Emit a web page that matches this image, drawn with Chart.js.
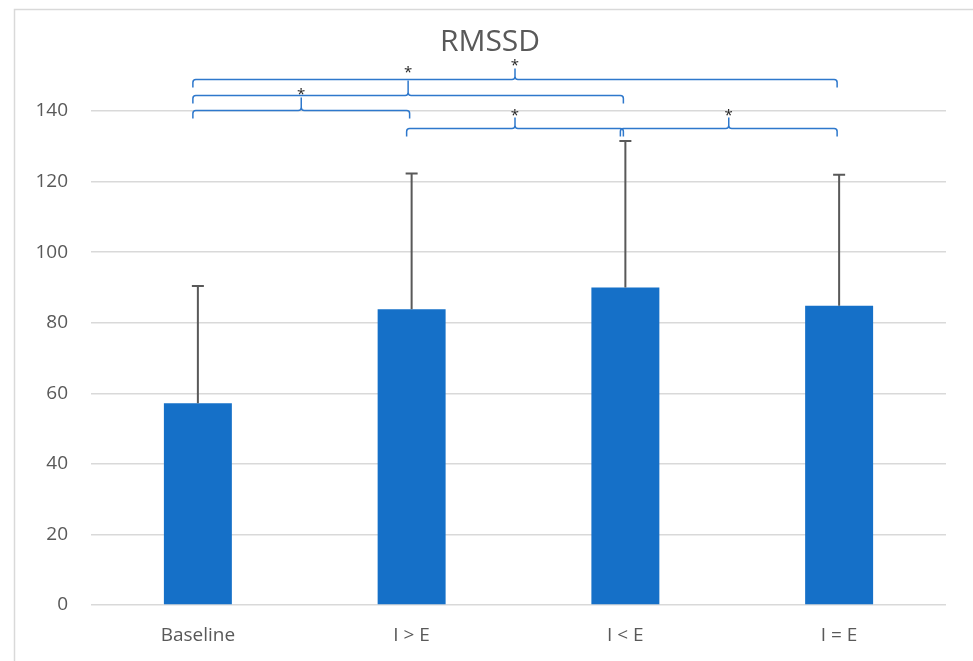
<!DOCTYPE html>
<html lang="en">
<head>
    <meta charset="UTF-8">
    <title>RMSSD</title>
    <script src="https://cdn.jsdelivr.net/npm/chart.js@4.4.1/dist/chart.umd.min.js"></script>
    <style>
        body {
            margin: 0;
            padding: 0;
            background-color: white;
            overflow: hidden;
        }
        .chart-container {
            position: relative;
            width: 973px;
            height: 661px;
        }
    </style>
</head>
<body>
    <div class="chart-container">
        <canvas id="rmssdChart"></canvas>
    </div>

    <script>
        const categories = ['Baseline', 'I > E', 'I < E', 'I = E'];
        const meanValues = [57.2, 83.8, 90.0, 84.8];
        const sdValues = [33.2, 38.5, 41.5, 37.1];

        // significance brackets: from category, to category, height (in y units), label
        const braceFrom = [0, 0, 0, 1, 2];
        const braceTo = [1, 2, 3, 2, 3];
        const braceLevel = [140.3, 144.5, 149.1, 135.2, 135.2];
        const braceLabel = ['*', '*', '*', '*', '*'];
        // pip length and asterisk gap (px) for each bracket
        const bracePip = [13, 15, 11, 11, 11];
        const braceGap = [7, 12, 7, 6, 6];

        const fontFamily = "'Open Sans', 'Noto Sans', sans-serif";

        // frame around the chart
        const framePlugin = {
            id: 'frame',
            beforeDraw(chart) {
                const ctx = chart.ctx;
                ctx.save();
                ctx.strokeStyle = '#d9d9d9';
                ctx.lineWidth = 1.5;
                ctx.strokeRect(14.5, 9.5, chart.width + 20, chart.height + 20);
                ctx.restore();
            }
        };

        // upward-only error bars
        const errorBarPlugin = {
            id: 'errorBars',
            afterDatasetsDraw(chart) {
                const ctx = chart.ctx;
                const meta = chart.getDatasetMeta(0);
                const yScale = chart.scales.y;
                ctx.save();
                ctx.strokeStyle = '#595959';
                ctx.lineWidth = 2;
                meta.data.forEach((bar, i) => {
                    const x = bar.x;
                    const yTop = yScale.getPixelForValue(meanValues[i] + sdValues[i]);
                    const yBar = yScale.getPixelForValue(meanValues[i]);
                    ctx.beginPath();
                    ctx.moveTo(x, yBar);
                    ctx.lineTo(x, yTop);
                    ctx.moveTo(x - 6, yTop);
                    ctx.lineTo(x + 6, yTop);
                    ctx.stroke();
                });
                ctx.restore();
            }
        };

        // brackets with asterisks
        const bracePlugin = {
            id: 'braces',
            afterDraw(chart) {
                const ctx = chart.ctx;
                const xScale = chart.scales.x;
                const yScale = chart.scales.y;
                const r = 3;
                const drop = 8;
                ctx.save();
                ctx.strokeStyle = '#2e78cc';
                ctx.lineWidth = 1.5;
                ctx.fillStyle = '#262626';
                ctx.font = '15px ' + fontFamily;
                ctx.textAlign = 'center';
                ctx.textBaseline = 'alphabetic';
                braceFrom.forEach((from, i) => {
                    const x1 = xScale.getPixelForValue(from) - 5;
                    const x2 = xScale.getPixelForValue(braceTo[i]) - 2;
                    const y = Math.round(yScale.getPixelForValue(braceLevel[i])) + 0.5;
                    const xm = (x1 + x2) / 2;
                    const pip = bracePip[i];
                    ctx.beginPath();
                    ctx.moveTo(x1, y + drop);
                    ctx.lineTo(x1, y + r);
                    ctx.quadraticCurveTo(x1, y, x1 + r, y);
                    ctx.lineTo(xm - r, y);
                    ctx.quadraticCurveTo(xm, y, xm, y - r);
                    ctx.lineTo(xm, y - pip);
                    ctx.moveTo(xm, y - r);
                    ctx.quadraticCurveTo(xm, y, xm + r, y);
                    ctx.lineTo(x2 - r, y);
                    ctx.quadraticCurveTo(x2, y, x2, y + r);
                    ctx.lineTo(x2, y + drop);
                    ctx.stroke();
                    // asterisk glyph sits high in the em box, baseline shifted down
                    ctx.fillText(braceLabel[i], xm, y - pip - braceGap[i] + 8);
                });
                ctx.restore();
            }
        };

        const ctx = document.getElementById('rmssdChart').getContext('2d');
        const rmssdChart = new Chart(ctx, {
            type: 'bar',
            data: {
                labels: categories,
                datasets: [{
                    label: 'RMSSD',
                    data: meanValues,
                    backgroundColor: '#1570c8',
                    barPercentage: 0.318,
                    categoryPercentage: 1.0
                }]
            },
            options: {
                responsive: true,
                maintainAspectRatio: false,
                animation: false,
                layout: {
                    padding: { left: 34, right: 27, top: 0, bottom: 0 }
                },
                plugins: {
                    legend: { display: false },
                    tooltip: { enabled: false },
                    title: {
                        display: true,
                        text: 'RMSSD',
                        color: '#595959',
                        font: { family: fontFamily, size: 30, weight: 'normal', lineHeight: 1.2 },
                        padding: { top: 24, bottom: 51 }
                    }
                },
                scales: {
                    x: {
                        grid: { display: false, drawTicks: false },
                        border: { display: false },
                        ticks: {
                            color: '#595959',
                            padding: 19,
                            font: { family: fontFamily, size: 19 }
                        },
                        afterFit(scale) { scale.height = 56; }
                    },
                    y: {
                        min: 0,
                        max: 140,
                        grid: { color: '#d9d9d9', lineWidth: 1.5, drawTicks: false },
                        border: { display: false },
                        ticks: {
                            stepSize: 20,
                            color: '#595959',
                            padding: 23,
                            font: { family: fontFamily, size: 19 }
                        },
                        afterFit(scale) { scale.width = 57; }
                    }
                }
            },
            plugins: [framePlugin, errorBarPlugin, bracePlugin]
        });
    </script>
</body>
</html>
